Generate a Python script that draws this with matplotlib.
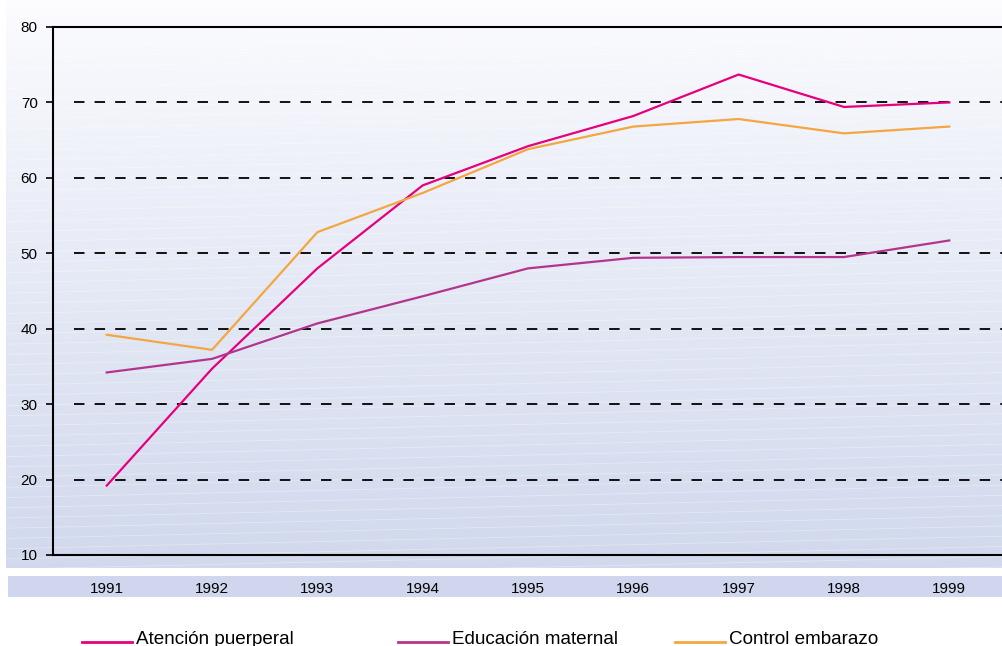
import numpy as np
import matplotlib.pyplot as plt
from matplotlib.lines import Line2D
from matplotlib.patches import Rectangle

plt.rcParams['font.family'] = ['Liberation Sans', 'DejaVu Sans']

# datos
years = ['1991', '1992', '1993', '1994', '1995', '1996', '1997', '1998', '1999']
atencion_puerperal = [19.2, 34.7, 48.0, 59.0, 64.2, 68.2, 73.7, 69.4, 70.0]
educacion_maternal = [34.2, 36.0, 40.7, 44.3, 48.0, 49.4, 49.5, 49.5, 51.7]
control_embarazo = [39.2, 37.2, 52.8, 58.0, 63.8, 66.8, 67.8, 65.9, 66.8]
series_names = ['Atención puerperal', 'Educación maternal', 'Control embarazo']
series_colors = ['#e5007d', '#b3358b', '#f4a640']
y_ticks = [10, 20, 30, 40, 50, 60, 70, 80]
grid_values = [20, 30, 40, 50, 60, 70]

W, H = 1003, 646
fig = plt.figure(figsize=(W / 100, H / 100), dpi=100)

# fondo degradado del panel
bg = fig.add_axes([6 / W, 1 - 568 / H, 1 - 6 / W, 568 / H], zorder=0)
grad = np.linspace(0, 1, 256).reshape(-1, 1)
top = np.array([0.99, 0.99, 1.0])
bot = np.array([0.82, 0.85, 0.93])
img = top + (bot - top) * grad[..., None] ** 0.9
bg.imshow(img, aspect='auto', extent=[0, 1, 0, 1], origin='upper')
# rayas blancas tenues
for k in np.arange(-0.2, 1.05, 0.018):
    bg.plot([0, 1], [k, k + 0.04], color='white', lw=0.6, alpha=0.35)
bg.set_xlim(0, 1)
bg.set_ylim(0, 1)
bg.axis('off')

# franja de los años
fig.patches.append(Rectangle((8 / W, 1 - 597 / H), 1 - 8 / W, 21 / H,
                             transform=fig.transFigure, facecolor='#cfd6ed',
                             edgecolor='none', zorder=1))

ax = fig.add_axes([53 / W, 1 - 555 / H, 1 - 53 / W, 528 / H], zorder=2)
ax.patch.set_alpha(0)
x = np.arange(len(years))
for vals, col in zip([atencion_puerperal, educacion_maternal, control_embarazo], series_colors):
    ax.plot(x, vals, color=col, lw=1.6, zorder=3)

x0, x1 = -0.51, len(years) - 0.49
ax.set_xlim(x0, x1)
ax.set_ylim(10, 80)
ax.set_yticks(y_ticks)
ax.set_xticks(x)
ax.set_xticklabels(years)
# líneas de guía discontinuas, empiezan un poco después del eje
ax.hlines(grid_values, x0 + 0.2, x1, colors='black', lw=1.3,
          linestyles=[(0, (5.8, 5.6))], zorder=2)

for s in ['left', 'bottom', 'top']:
    ax.spines[s].set_linewidth(1.5)
ax.spines['right'].set_visible(False)
ax.tick_params(axis='y', length=5, width=1.2, labelsize=11, pad=6)
ax.tick_params(axis='x', length=0, labelsize=11, pad=19.5)

# leyenda manual
leg_x = [82, 398, 675]
for lx, name, col in zip(leg_x, series_names, series_colors):
    fig.add_artist(Line2D([lx / W, (lx + 50) / W], [1 - 642 / H, 1 - 642 / H],
                          color=col, lw=2, transform=fig.transFigure))
    fig.text((lx + 54) / W, 1 - 644 / H, name, fontsize=13.6, va='baseline', ha='left')

fig.savefig('out.png', dpi=100)
